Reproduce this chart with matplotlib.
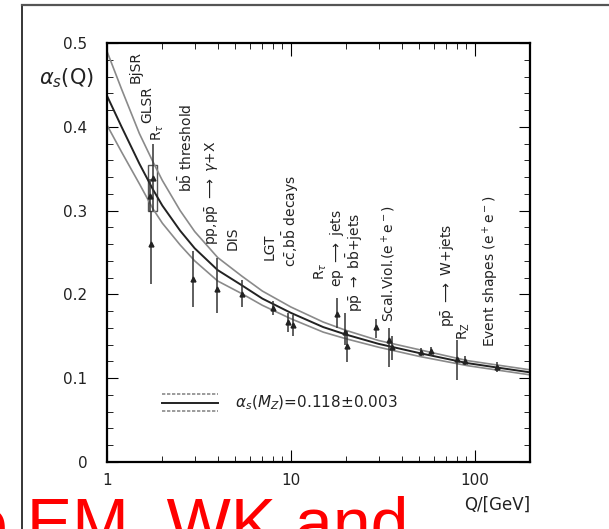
import matplotlib
matplotlib.use("Agg")
import matplotlib.pyplot as plt
from matplotlib.lines import Line2D

# running coupling curves
q_curve = [1, 1.2, 1.5, 1.78, 2, 2.5, 3, 4, 5.4, 7, 10, 15, 20, 30, 50, 91.2, 130, 200]
alpha_central = [0.437, 0.400, 0.356, 0.325, 0.306, 0.276, 0.255, 0.229, 0.211, 0.195,
                 0.178, 0.161, 0.152, 0.141, 0.130, 0.118, 0.113, 0.107]
alpha_upper = [0.490, 0.445, 0.392, 0.358, 0.336, 0.300, 0.275, 0.244, 0.222, 0.204,
               0.185, 0.167, 0.157, 0.145, 0.134, 0.121, 0.116, 0.110]
alpha_lower = [0.402, 0.370, 0.332, 0.302, 0.285, 0.259, 0.240, 0.216, 0.201, 0.187,
               0.171, 0.155, 0.147, 0.137, 0.126, 0.115, 0.110, 0.104]

# measurements: Q, alpha_s, lower / upper end of error bar
q_meas = [1.78, 1.72, 1.74, 2.93, 3.96, 5.4, 8.0, 9.7, 10.3, 17.8, 19.6, 20.2,
          29, 34, 35.5, 51, 58, 80, 89, 132]
a_meas = [0.339, 0.318, 0.260, 0.218, 0.207, 0.200, 0.184, 0.167, 0.163, 0.177, 0.155, 0.139,
          0.161, 0.145, 0.137, 0.131, 0.132, 0.123, 0.121, 0.113]
a_lo = [0.300, 0.298, 0.213, 0.185, 0.178, 0.185, 0.176, 0.155, 0.150, 0.160, 0.140, 0.119,
        0.148, 0.113, 0.122, 0.126, 0.127, 0.098, 0.116, 0.107]
a_hi = [0.380, 0.338, 0.300, 0.252, 0.243, 0.217, 0.192, 0.178, 0.176, 0.196, 0.178, 0.156,
        0.171, 0.160, 0.150, 0.136, 0.137, 0.145, 0.126, 0.119]

# R_tau theory box
box_q = [1.78]
box_lo = [0.300]
box_hi = [0.354]

# vertical labels: text, Q position, alpha_s at the bottom of the text
labels = [
    ("BjSR", 1.44, 0.452),
    ("GLSR", 1.66, 0.404),
    (r"R$_\tau$", 1.90, 0.383),
    (r"b$\bar{\rm b}$ threshold", 2.69, 0.322),
    (r"pp,p$\bar{\rm p}$ $\longrightarrow$ $\gamma$+X", 3.73, 0.259),
    ("DIS", 4.85, 0.253),
    ("LGT", 7.7, 0.241),
    (r"c$\bar{\rm c}$,b$\bar{\rm b}$ decays", 10.0, 0.233),
    (r"R$_\tau$", 14.6, 0.217),
    (r"ep $\longrightarrow$ jets", 17.8, 0.209),
    (r"p$\bar{\rm p}$ $\rightarrow$ b$\bar{\rm b}$+jets", 22.2, 0.179),
    (r"Scal.Viol.(e$^+$e$^-$)", 34.2, 0.167),
    (r"p$\bar{\rm p}$ $\longrightarrow$ W+jets", 70.7, 0.161),
    (r"R$_{\rm Z}$", 87.5, 0.146),
    (r"Event shapes (e$^+$e$^-$)", 122, 0.137),
]

fig = plt.figure(figsize=(6.09, 5.29), dpi=100)
ax = fig.add_axes([107 / 609, 1 - 462 / 529, 423 / 609, 419 / 529])

ax.plot(q_curve, alpha_upper, color="#8a8a8a", lw=1.2)
ax.plot(q_curve, alpha_lower, color="#8a8a8a", lw=1.2)
ax.plot(q_curve, alpha_central, color="#222222", lw=1.4)

ax.bar(box_q, [h - l for h, l in zip(box_hi, box_lo)], bottom=box_lo, width=0.2,
       fill=False, edgecolor="#555555", lw=1.0)

yerr = [[a - l for a, l in zip(a_meas, a_lo)], [h - a for a, h in zip(a_meas, a_hi)]]
ax.errorbar(q_meas, a_meas, yerr=yerr, fmt="^", ms=3.5, color="#222222",
            ecolor="#333333", elinewidth=1.1, capsize=0)

for text, q, y in labels:
    ax.text(q, y, text, rotation=90, ha="center", va="bottom", fontsize=10, color="#222222")

# legend drawn by hand
ax.add_line(Line2D([0.130, 0.262], [0.162, 0.162], transform=ax.transAxes,
                   color="#8a8a8a", lw=1.2, ls=(0, (2, 1))))
ax.add_line(Line2D([0.130, 0.262], [0.141, 0.141], transform=ax.transAxes,
                   color="#222222", lw=1.4))
ax.add_line(Line2D([0.130, 0.262], [0.122, 0.122], transform=ax.transAxes,
                   color="#8a8a8a", lw=1.2, ls=(0, (2, 1))))
ax.text(0.303, 0.141, r"$\alpha_s(M_Z)$=0.118$\pm$0.003", transform=ax.transAxes,
        va="center", ha="left", fontsize=11, color="#222222")

ax.set_xscale("log")
ax.set_xlim(1, 200)
ax.set_ylim(0, 0.5)
ax.set_yticks([0, 0.1, 0.2, 0.3, 0.4, 0.5])
ax.set_yticklabels(["0", "0.1", "0.2", "0.3", "0.4", "0.5"])
ax.set_yticks([i * 0.02 for i in range(26)], minor=True)
ax.set_xticks([1, 10, 100])
ax.set_xticklabels(["1", "10", "100"])
ax.tick_params(which="both", direction="in", top=True, right=True, labelsize=11,
               labelcolor="#222222")
ax.tick_params(axis="y", which="major", length=8, pad=14)
ax.tick_params(axis="x", which="major", length=9, pad=8)
ax.tick_params(which="minor", length=4)
for s in ax.spines.values():
    s.set_linewidth(1.6)

fig.text(66 / 609, 1 - 78 / 529, r"$\alpha_s$(Q)", ha="center", va="center",
         fontsize=15, color="#222222")
fig.text(530 / 609, 1 - 505 / 529, "Q/[GeV]", ha="right", va="center",
         fontsize=12, color="#222222")

# slide frame
fig.add_artist(Line2D([22 / 609, 22 / 609], [0, 1 - 5 / 529], transform=fig.transFigure,
                      color="black", lw=1.1))
fig.add_artist(Line2D([22 / 609, 1], [1 - 5 / 529, 1 - 5 / 529], transform=fig.transFigure,
                      color="#555555", lw=1.6))

fig.text(-30 / 609, -17 / 529, "e EM, WK and", ha="left", va="baseline",
         fontsize=49, color="#ff0000", family="Liberation Sans")

fig.savefig("out.png", dpi=100)
